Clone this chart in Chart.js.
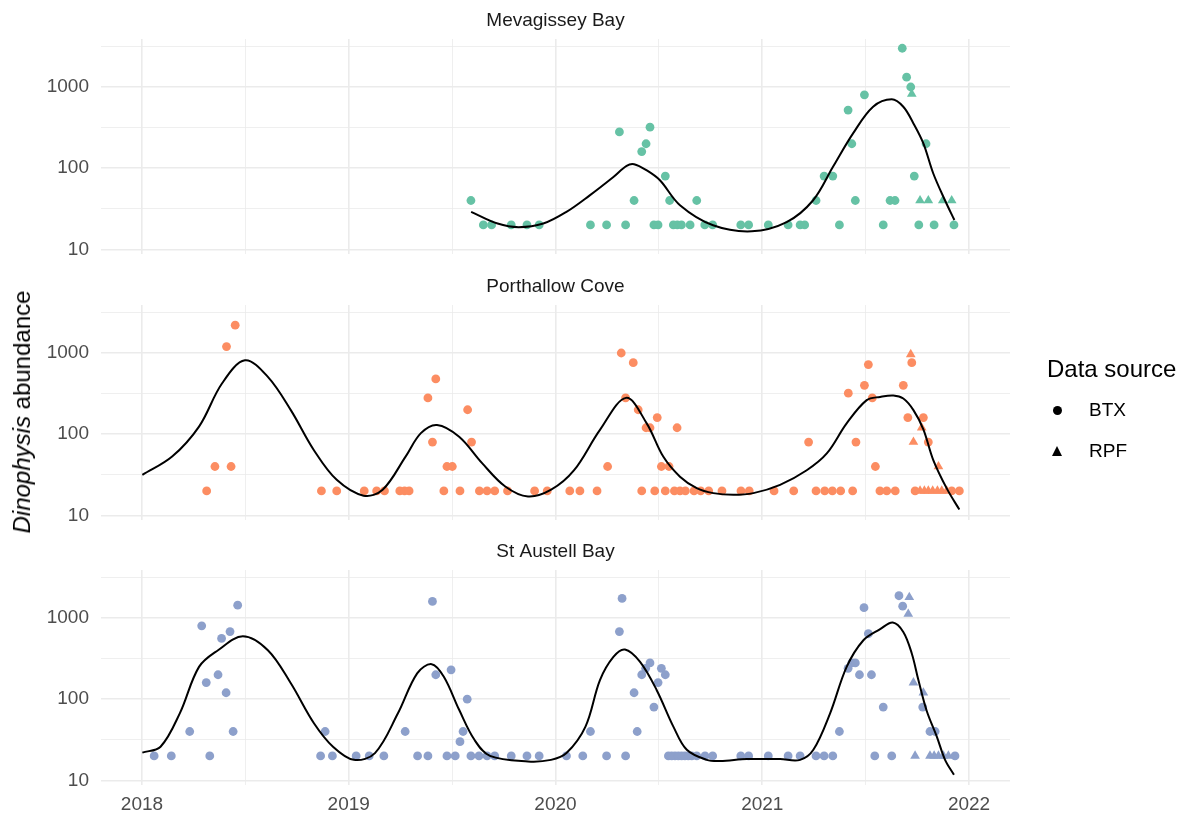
<!DOCTYPE html>
<html>
<head>
<meta charset="utf-8">
<script src="https://cdn.jsdelivr.net/npm/chart.js@4.4.1/dist/chart.umd.min.js"></script>
<style>
  html, body { margin: 0; padding: 0; background: #fff; }
  body { width: 1184px; height: 816px; position: relative; overflow: hidden; font-family: "Liberation Sans", Arial, sans-serif; }
  .panel { position: absolute; left: 0; width: 1184px; }
  #ytitle { position: absolute; left: 22px; top: 412px; transform: translate(-50%, -50%) rotate(-90deg); font-size: 24px; white-space: nowrap; color: #000; }
  .lg { position: absolute; white-space: nowrap; color: #000; }
  .dot { position: absolute; width: 9px; height: 9px; border-radius: 50%; background: #000; }
  .tri { position: absolute; width: 0; height: 0; border-left: 5.5px solid transparent; border-right: 5.5px solid transparent; border-bottom: 10px solid #000; }
</style>
</head>
<body>
<div class="panel" style="top:0;height:266px"><canvas id="mev"></canvas></div>
<div class="panel" style="top:266px;height:266px"><canvas id="por"></canvas></div>
<div class="panel" style="top:531px;height:285px"><canvas id="sta"></canvas></div>

<div id="ytitle"><i>Dinophysis</i> abundance</div>

<div class="lg" style="left:1047px;top:355px;font-size:24px;line-height:28px">Data source</div>
<span class="dot" style="left:1052.5px;top:405.5px"></span>
<div class="lg" style="left:1089px;top:399px;font-size:19px;line-height:22px">BTX</div>
<span class="tri" style="left:1051.5px;top:446px"></span>
<div class="lg" style="left:1089px;top:440px;font-size:19px;line-height:22px">RPF</div>

<script>
/* DATA */
const siteNames = ["Mevagissey Bay", "Porthallow Cove", "St Austell Bay"];
const siteColors = ["#66c2a5", "#fc8d62", "#8da0cb"];

const xTicks = [2018, 2018.5, 2019, 2019.5, 2020, 2020.5, 2021, 2021.5, 2022];
const xLabels = ["2018", "", "2019", "", "2020", "", "2021", "", "2022"];
const yTicks = [10, 31.62, 100, 316.2, 1000, 3162];
const yLabels = ["10", "", "100", "", "1000", ""];

// [decimal year, cells]
const mevBTX = [
  [2019.591,40],[2019.651,20],[2019.691,20],[2019.786,20],[2019.862,20],[2019.921,20],
  [2020.169,20],[2020.247,20],[2020.309,280],[2020.339,20],[2020.380,40],[2020.417,160],
  [2020.438,200],[2020.457,320],[2020.476,20],[2020.496,20],[2020.531,80],[2020.552,40],
  [2020.570,20],[2020.589,20],[2020.609,20],[2020.651,20],[2020.683,40],[2020.722,20],
  [2020.760,20],[2020.896,20],[2020.934,20],[2021.029,20],[2021.125,20],[2021.183,20],
  [2021.205,20],[2021.260,40],[2021.299,80],[2021.341,80],[2021.373,20],[2021.415,520],
  [2021.433,200],[2021.450,40],[2021.494,800],[2021.585,20],[2021.618,40],[2021.642,40],
  [2021.677,3000],[2021.698,1320],[2021.718,1000],[2021.735,80],[2021.757,20],[2021.792,200],
  [2021.831,20],[2021.927,20]
];
const mevRPF = [[2021.723,820],[2021.763,40],[2021.803,40],[2021.873,40],[2021.916,40]];
const mevFit = [
  [2019.592,29],[2019.72,20.8],[2019.822,18.8],[2019.941,20.8],[2020.053,29],[2020.164,46],
  [2020.28,78],[2020.344,107],[2020.38,112],[2020.441,94],[2020.505,71],
  [2020.602,35],[2020.762,19.8],[2020.949,16.7],[2021.118,21.7],[2021.245,40],[2021.342,104],
  [2021.439,268],[2021.536,571],[2021.626,705],[2021.682,571],[2021.731,356],
  [2021.779,202],[2021.827,86],[2021.884,40],[2021.929,23]
];

const porBTX = [
  [2018.313,20],[2018.353,40],[2018.409,1200],[2018.431,40],[2018.451,2200],[2018.868,20],
  [2018.942,20],[2019.075,20],[2019.135,20],[2019.173,20],[2019.247,20],[2019.270,20],
  [2019.292,20],[2019.383,280],[2019.405,80],[2019.421,480],[2019.460,20],[2019.475,40],
  [2019.501,40],[2019.538,20],[2019.575,200],[2019.594,80],[2019.632,20],[2019.669,20],
  [2019.706,20],[2019.768,20],[2019.899,20],[2019.960,20],[2020.069,20],[2020.118,20],
  [2020.201,20],[2020.252,40],[2020.318,1000],[2020.339,280],[2020.376,760],[2020.400,200],
  [2020.417,20],[2020.438,120],[2020.457,120],[2020.480,20],[2020.492,160],[2020.512,40],
  [2020.531,20],[2020.549,40],[2020.575,20],[2020.588,120],[2020.602,20],[2020.628,20],
  [2020.670,20],[2020.702,20],[2020.741,20],[2020.805,20],[2020.897,20],[2020.937,20],
  [2021.057,20],[2021.152,20],[2021.224,80],[2021.260,20],[2021.302,20],[2021.339,20],
  [2021.379,20],[2021.416,320],[2021.437,20],[2021.453,80],[2021.494,400],[2021.513,720],
  [2021.532,280],[2021.547,40],[2021.569,20],[2021.602,20],[2021.643,20],[2021.682,400],
  [2021.704,160],[2021.723,760],[2021.739,20],[2021.779,160],[2021.803,80],[2021.916,20],
  [2021.953,20]
];
const porRPF = [
  [2021.718,960],[2021.731,80],[2021.771,120],[2021.852,40],[2021.763,20],[2021.784,20],
  [2021.803,20],[2021.824,20],[2021.847,20],[2021.868,20],[2021.892,20]
];
const porFit = [
  [2018.002,31.5],[2018.146,53],[2018.276,124],[2018.387,421],[2018.498,813],[2018.609,508],
  [2018.720,198],[2018.831,64],[2018.942,27.4],[2019.072,17.5],[2019.164,20.7],[2019.275,53],
  [2019.349,103],[2019.427,130],[2019.534,93],[2019.645,44],[2019.757,22.7],[2019.867,17.1],
  [2019.979,20.7],[2020.090,36],[2020.215,113],[2020.341,280],[2020.441,136],[2020.521,53],
  [2020.602,30],[2020.683,21.7],[2020.763,18.8],[2020.860,17.9],[2020.957,18.8],[2021.086,23.8],
  [2021.215,36],[2021.312,58],[2021.408,136],[2021.505,263],[2021.570,288],[2021.634,300],
  [2021.682,275],[2021.731,198],[2021.779,115],[2021.827,48],[2021.892,21.5],[2021.953,11.8]
];

const staBTX = [
  [2018.059,20],[2018.142,20],[2018.231,40],[2018.289,800],[2018.311,160],[2018.328,20],
  [2018.368,200],[2018.385,560],[2018.407,120],[2018.426,680],[2018.441,40],[2018.463,1440],
  [2018.864,20],[2018.886,40],[2018.921,20],[2019.036,20],[2019.099,20],[2019.170,20],
  [2019.273,40],[2019.333,20],[2019.383,20],[2019.405,1600],[2019.421,200],[2019.475,20],
  [2019.495,230],[2019.515,20],[2019.538,30],[2019.553,40],[2019.573,100],[2019.591,20],
  [2019.630,20],[2019.669,20],[2019.706,20],[2019.786,20],[2019.862,20],[2019.921,20],
  [2020.053,20],[2020.132,20],[2020.169,40],[2020.247,20],[2020.309,680],[2020.322,1740],
  [2020.339,20],[2020.380,120],[2020.395,40],[2020.417,200],[2020.436,240],[2020.457,280],
  [2020.476,80],[2020.496,160],[2020.512,240],[2020.531,200],[2020.546,20],[2020.562,20],
  [2020.578,20],[2020.594,20],[2020.610,20],[2020.626,20],[2020.642,20],[2020.659,20],
  [2020.683,20],[2020.723,20],[2020.760,20],[2020.896,20],[2020.934,20],[2021.029,20],
  [2021.125,20],[2021.183,20],[2021.260,20],[2021.299,20],[2021.341,20],[2021.373,40],
  [2021.415,240],[2021.433,280],[2021.450,280],[2021.470,200],[2021.492,1340],[2021.513,640],
  [2021.528,200],[2021.544,20],[2021.585,80],[2021.626,20],[2021.661,1880],[2021.679,1400],
  [2021.776,80],[2021.811,40],[2021.836,40],[2021.932,20]
];
const staRPF = [
  [2021.711,1800],[2021.706,1120],[2021.731,160],[2021.779,120],[2021.739,20],[2021.811,20],
  [2021.831,20],[2021.852,20],[2021.876,20],[2021.900,20]
];
const staFit = [
  [2018.002,22],[2018.090,26],[2018.183,67],[2018.276,250],[2018.368,401],[2018.488,596],
  [2018.609,401],[2018.720,157],[2018.831,51],[2018.924,26],[2019.025,17.9],[2019.127,21.7],
  [2019.238,67],[2019.331,208],[2019.401,270],[2019.460,189],[2019.534,74],[2019.608,31.6],
  [2019.683,20],[2019.867,17.1],[2019.978,17.9],[2020.053,21.7],[2020.145,46],[2020.215,172],
  [2020.280,332],[2020.336,409],[2020.409,288],[2020.489,130],[2020.570,46],[2020.635,23.8],
  [2020.731,17.9],[2020.796,17.3],[2020.925,18.3],[2021.086,18.3],[2021.183,17.9],[2021.247,23.8],
  [2021.328,67],[2021.408,250],[2021.489,532],[2021.570,730],[2021.631,880],[2021.682,673],
  [2021.723,366],[2021.755,172],[2021.795,72],[2021.844,34.6],[2021.884,17.9],[2021.927,11.7]
];

/* SCALES */
const X_MIN = 2017.802, X_MAX = 2022.198;
const Y_MIN = 8.9, Y_MAX = 3900;
const FONT = '"Liberation Sans", Arial, sans-serif';
const GRID = "#ebebeb";

const toXY = arr => arr.map(p => ({ x: p[0], y: p[1] }));

function makePanel(id, idx, btx, rpf, fit, showX) {
  const color = siteColors[idx];
  return new Chart(document.getElementById(id), {
    type: "scatter",
    data: {
      datasets: [
        {
          type: "line",
          data: toXY(fit),
          borderColor: "#000",
          borderWidth: 2,
          pointRadius: 0,
          fill: false,
          tension: 0.35,
          order: 0
        },
        {
          data: toXY(btx),
          pointStyle: "circle",
          pointRadius: 4.4,
          backgroundColor: color,
          borderWidth: 0,
          order: 1
        },
        {
          data: toXY(rpf),
          pointStyle: "triangle",
          pointRadius: 5.6,
          backgroundColor: color,
          borderWidth: 0,
          order: 1
        }
      ]
    },
    options: {
      responsive: true,
      maintainAspectRatio: false,
      animation: false,
      layout: { padding: { left: 0, right: 174, top: 0, bottom: 0 } },
      plugins: {
        legend: { display: false },
        tooltip: { enabled: false },
        title: {
          display: true,
          text: siteNames[idx],
          fullSize: false,
          color: "#1a1a1a",
          font: { family: FONT, size: 19, weight: "normal" },
          padding: { top: 9.5, bottom: 6.7 }
        }
      },
      scales: {
        x: {
          type: "linear",
          min: X_MIN,
          max: X_MAX,
          afterBuildTicks: s => { s.ticks = xTicks.map(v => ({ value: v })); },
          afterFit: s => {
            s.height = showX ? 31.5 : 12.5;
            s.paddingLeft = 0;
            s.paddingRight = 0;
          },
          ticks: {
            display: showX,
            autoSkip: false,
            maxRotation: 0,
            padding: 9,
            color: "#4d4d4d",
            font: { family: FONT, size: 19 },
            callback: (v, i) => xLabels[i]
          },
          grid: {
            color: GRID,
            drawTicks: false,
            lineWidth: c => (Number.isInteger(c.tick.value) ? 1.6 : 0.8)
          },
          border: { display: false }
        },
        y: {
          type: "logarithmic",
          min: Y_MIN,
          max: Y_MAX,
          afterBuildTicks: s => { s.ticks = yTicks.map(v => ({ value: v })); },
          afterFit: s => {
            s.width = 101;
            s.paddingTop = 0;
            s.paddingBottom = 0;
          },
          ticks: {
            autoSkip: false,
            padding: 12,
            color: "#4d4d4d",
            font: { family: FONT, size: 19 },
            callback: (v, i) => yLabels[i]
          },
          grid: {
            color: GRID,
            drawTicks: false,
            lineWidth: c => (yLabels[c.index] ? 1.6 : 0.8)
          },
          border: { display: false }
        }
      }
    }
  });
}

makePanel("mev", 0, mevBTX, mevRPF, mevFit, false);
makePanel("por", 1, porBTX, porRPF, porFit, false);
makePanel("sta", 2, staBTX, staRPF, staFit, true);
</script>
</body>
</html>
